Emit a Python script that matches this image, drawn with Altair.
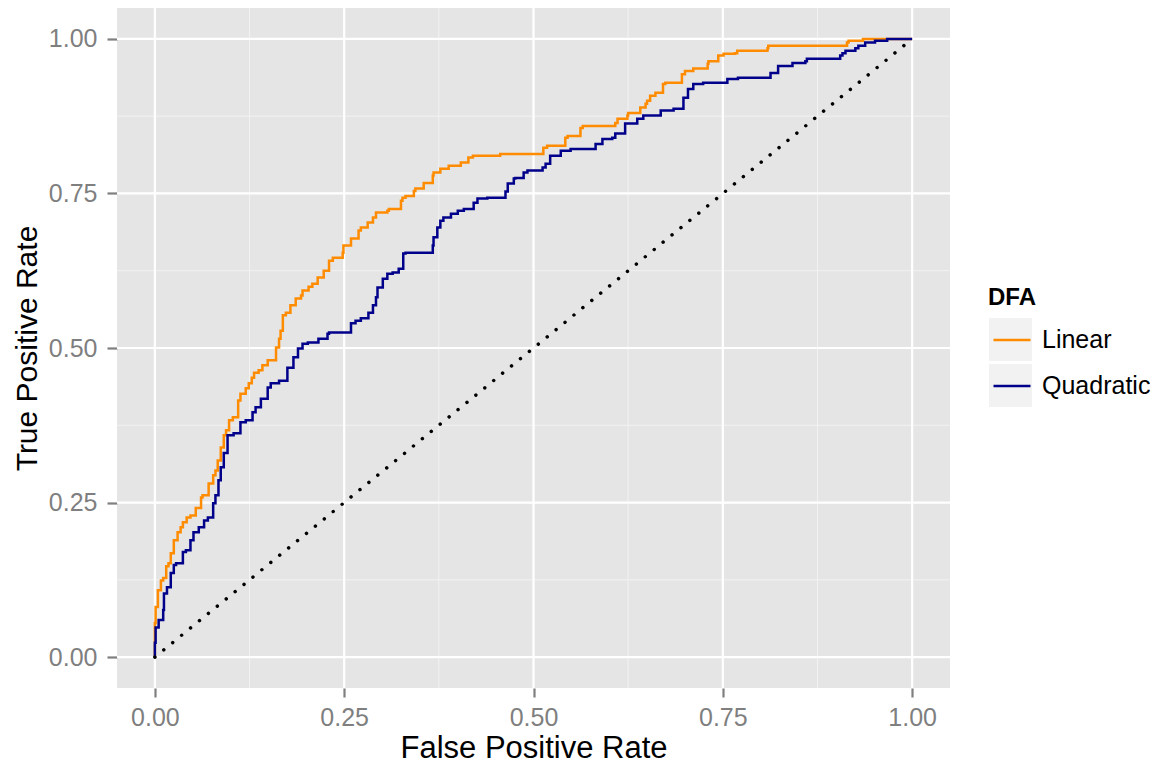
import altair as alt
import pandas as pd

# ROC curve vertices (right end of each plateau)
linear_fpr = [0.000, 0.001, 0.004, 0.008, 0.011, 0.015, 0.018, 0.021, 0.025, 0.030,
              0.034, 0.037, 0.042, 0.047, 0.054, 0.061, 0.063, 0.071, 0.077, 0.080,
              0.083, 0.087, 0.091, 0.094, 0.098, 0.103, 0.110, 0.113, 0.120, 0.124,
              0.128, 0.131, 0.137, 0.142, 0.149, 0.160, 0.164, 0.166, 0.169, 0.173,
              0.179, 0.186, 0.193, 0.195, 0.203, 0.208, 0.215, 0.223, 0.230, 0.235,
              0.248, 0.249, 0.259, 0.269, 0.272, 0.281, 0.288, 0.292, 0.307, 0.309,
              0.325, 0.327, 0.331, 0.342, 0.344, 0.355, 0.367, 0.368, 0.377, 0.388,
              0.404, 0.414, 0.420, 0.456, 0.459, 0.513, 0.518, 0.542, 0.545, 0.562,
              0.565, 0.608, 0.611, 0.624, 0.625, 0.641, 0.648, 0.650, 0.654, 0.661,
              0.671, 0.674, 0.696, 0.700, 0.711, 0.730, 0.731, 0.744, 0.751, 0.766,
              0.769, 0.809, 0.810, 0.822, 0.914, 0.916, 0.935, 0.938, 1.000]
linear_tpr = [0.000, 0.055, 0.081, 0.108, 0.124, 0.128, 0.147, 0.152, 0.168, 0.189,
              0.202, 0.210, 0.218, 0.226, 0.229, 0.241, 0.258, 0.262, 0.281, 0.294,
              0.302, 0.318, 0.339, 0.359, 0.367, 0.383, 0.388, 0.415, 0.426, 0.435,
              0.443, 0.452, 0.460, 0.464, 0.472, 0.480, 0.501, 0.515, 0.528, 0.553,
              0.557, 0.569, 0.580, 0.585, 0.593, 0.599, 0.604, 0.614, 0.625, 0.641,
              0.646, 0.654, 0.666, 0.677, 0.690, 0.695, 0.703, 0.711, 0.719, 0.722,
              0.725, 0.738, 0.743, 0.746, 0.754, 0.758, 0.767, 0.779, 0.784, 0.790,
              0.795, 0.800, 0.808, 0.811, 0.814, 0.814, 0.824, 0.827, 0.840, 0.843,
              0.856, 0.859, 0.864, 0.871, 0.876, 0.880, 0.889, 0.895, 0.900, 0.908,
              0.913, 0.927, 0.929, 0.943, 0.948, 0.952, 0.960, 0.964, 0.973, 0.976,
              0.977, 0.981, 0.985, 0.989, 0.989, 0.994, 0.997, 1.000, 1.000]

quad_fpr = [0.000, 0.001, 0.005, 0.011, 0.012, 0.016, 0.021, 0.025, 0.028, 0.037,
            0.041, 0.047, 0.051, 0.058, 0.065, 0.070, 0.077, 0.080, 0.084, 0.087,
            0.091, 0.096, 0.104, 0.113, 0.120, 0.129, 0.133, 0.140, 0.149, 0.153,
            0.164, 0.175, 0.183, 0.189, 0.195, 0.202, 0.216, 0.228, 0.230, 0.259,
            0.265, 0.272, 0.282, 0.288, 0.292, 0.294, 0.301, 0.307, 0.314, 0.322,
            0.328, 0.331, 0.367, 0.368, 0.373, 0.377, 0.381, 0.391, 0.400, 0.408,
            0.421, 0.426, 0.439, 0.463, 0.466, 0.474, 0.476, 0.487, 0.492, 0.512,
            0.516, 0.522, 0.536, 0.549, 0.582, 0.591, 0.604, 0.608, 0.621, 0.637,
            0.645, 0.668, 0.685, 0.698, 0.704, 0.711, 0.724, 0.756, 0.770, 0.813,
            0.823, 0.842, 0.859, 0.861, 0.905, 0.908, 0.912, 0.925, 0.929, 0.938,
            0.951, 0.967, 0.968, 1.000]
quad_tpr = [0.000, 0.023, 0.048, 0.060, 0.076, 0.103, 0.113, 0.136, 0.149, 0.152,
            0.170, 0.173, 0.189, 0.202, 0.210, 0.221, 0.226, 0.249, 0.262, 0.286,
            0.307, 0.330, 0.359, 0.362, 0.380, 0.383, 0.396, 0.404, 0.418, 0.436,
            0.443, 0.447, 0.468, 0.485, 0.499, 0.507, 0.509, 0.515, 0.523, 0.525,
            0.540, 0.544, 0.548, 0.557, 0.569, 0.582, 0.598, 0.612, 0.620, 0.622,
            0.628, 0.653, 0.654, 0.666, 0.679, 0.695, 0.706, 0.711, 0.717, 0.722,
            0.725, 0.735, 0.742, 0.743, 0.753, 0.766, 0.774, 0.775, 0.784, 0.787,
            0.792, 0.798, 0.811, 0.819, 0.822, 0.830, 0.838, 0.840, 0.847, 0.863,
            0.871, 0.876, 0.884, 0.887, 0.905, 0.919, 0.927, 0.929, 0.935, 0.937,
            0.945, 0.956, 0.961, 0.964, 0.968, 0.973, 0.977, 0.981, 0.985, 0.989,
            0.994, 0.997, 1.000, 1.000]

series_names = ["Linear", "Quadratic"]
series_colors = ["#FF8C00", "#00008B"]
key_names = ["Linear key", "Quadratic key"]
key_colors = ["#F2F2F2", "#F2F2F2"]
diag_vals = [0.0, 1.0]
major_breaks = [0.0, 0.25, 0.5, 0.75, 1.0]
minor_breaks = [0.125, 0.375, 0.625, 0.875]

rows = []
for name, kname, fx, ty in [("Linear", key_names[0], linear_fpr, linear_tpr),
                            ("Quadratic", key_names[1], quad_fpr, quad_tpr)]:
    for i, (f, t) in enumerate(zip(fx, ty)):
        rows.append({"fpr": f, "tpr": t, "DFA": name, "key": kname, "idx": i})
curves = pd.DataFrame(rows)
diag = pd.DataFrame({"fpr": diag_vals, "tpr": diag_vals})
major_df = pd.DataFrame({"v": major_breaks})
minor_df = pd.DataFrame({"v": minor_breaks})

FONT = "Liberation Sans"
xs = alt.Scale(domain=[-0.05, 1.05], nice=False, zero=False)
ys = alt.Scale(domain=[-0.05, 1.05], nice=False, zero=False)

x_axis = alt.Axis(values=major_breaks, format=".2f", grid=False, domain=False,
                  tickColor="#7F7F7F", tickWidth=2.2, tickSize=9,
                  labelColor="#7F7F7F", labelFontSize=25, labelFont=FONT,
                  labelPadding=8, title="False Positive Rate", titleFontSize=31,
                  titleFont=FONT, titleColor="black", titleFontWeight="normal",
                  titlePadding=3)
y_axis = alt.Axis(values=major_breaks, format=".2f", grid=False, domain=False,
                  tickColor="#7F7F7F", tickWidth=2.2, tickSize=10,
                  labelColor="#7F7F7F", labelFontSize=25, labelFont=FONT,
                  labelPadding=10, title="True Positive Rate", titleFontSize=30,
                  titleFont=FONT, titleColor="black", titleFontWeight="normal",
                  titlePadding=6)

X = lambda f: alt.X(f, scale=xs, axis=x_axis)
Y = lambda f: alt.Y(f, scale=ys, axis=y_axis)

minor_v = alt.Chart(minor_df).mark_rule(color="#F2F2F2", strokeWidth=1).encode(x=X("v:Q"))
minor_h = alt.Chart(minor_df).mark_rule(color="#F2F2F2", strokeWidth=1).encode(y=Y("v:Q"))
major_v = alt.Chart(major_df).mark_rule(color="white", strokeWidth=2.2).encode(x=X("v:Q"))
major_h = alt.Chart(major_df).mark_rule(color="white", strokeWidth=2.2).encode(y=Y("v:Q"))

# invisible layer that only provides the grey legend key boxes
keys = alt.Chart(curves).mark_square(size=1, opacity=0).encode(
    x=X("fpr:Q"),
    y=Y("tpr:Q"),
    fill=alt.Fill("key:N",
                  scale=alt.Scale(domain=key_names, range=key_colors),
                  legend=alt.Legend(title=None, orient="none", legendX=871, legendY=310,
                                    labelExpr="''", labelFontSize=25, labelFont=FONT,
                                    symbolType="square", symbolSize=1849, symbolOpacity=1,
                                    symbolStrokeWidth=0, symbolOffset=1, rowPadding=3,
                                    zindex=1)),
)

lines = alt.Chart(curves).mark_line(strokeWidth=2.5, interpolate="step-before").encode(
    x=X("fpr:Q"),
    y=Y("tpr:Q"),
    order="idx:Q",
    stroke=alt.Stroke("DFA:N",
                      scale=alt.Scale(domain=series_names, range=series_colors),
                      legend=alt.Legend(title="DFA", orient="none", legendX=871, legendY=278,
                                        titleFontSize=24, titleFont=FONT, titleFontWeight="bold",
                                        titleColor="black", titlePadding=10,
                                        labelFontSize=25, labelFont=FONT, labelColor="black",
                                        labelOffset=10, symbolType="stroke", symbolSize=1369,
                                        symbolStrokeWidth=2.5, symbolOffset=4, rowPadding=13,
                                        zindex=2)),
)

diag_line = alt.Chart(diag).mark_line(color="black", strokeWidth=3.5, strokeCap="round",
                                      strokeDash=[0.01, 11.5]).encode(
    x=X("fpr:Q"), y=Y("tpr:Q"))

chart = alt.layer(minor_v, minor_h, major_v, major_h, keys, lines, diag_line).properties(
    width=833, height=680,
    autosize=alt.AutoSizeParams(type="none"),
    padding={"left": 109, "top": 0, "right": 200, "bottom": 75},
).configure_view(fill="#E5E5E5", stroke=None)

chart.save("out.html", embed_options={"renderer": "svg", "actions": False})
